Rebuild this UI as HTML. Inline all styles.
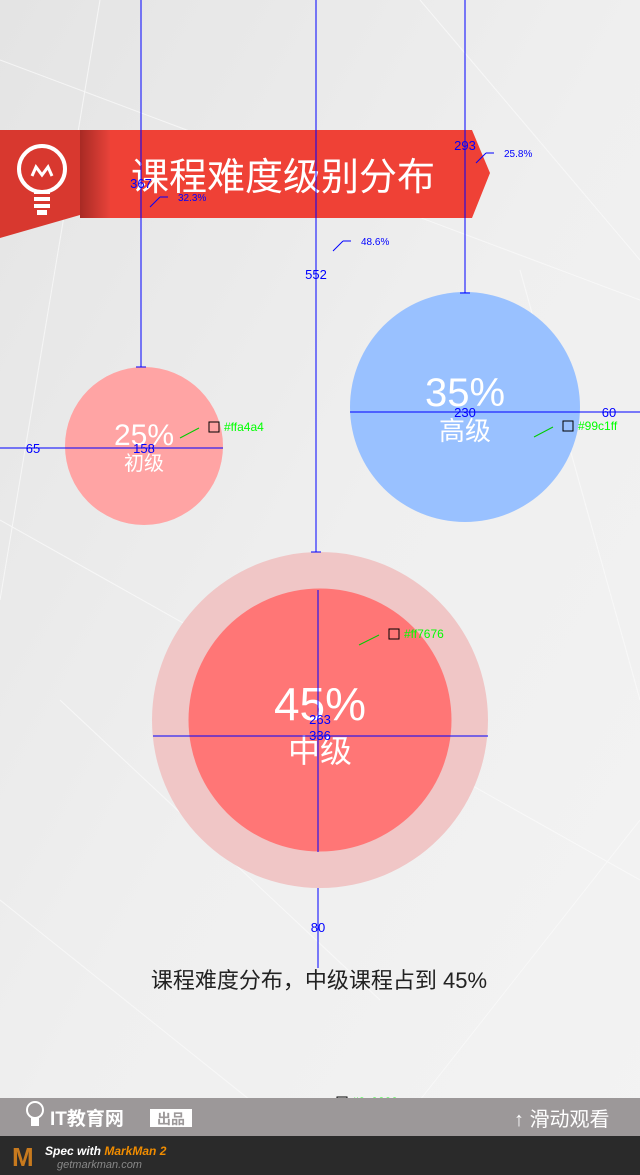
<!DOCTYPE html>
<html><head><meta charset="utf-8"><style>
html,body{margin:0;padding:0;width:640px;height:1175px;overflow:hidden;background:#ececec}
svg{display:block}
text{font-family:"Liberation Sans","Noto Sans CJK SC",sans-serif}
.m{font-family:"Liberation Sans","Noto Sans CJK SC",sans-serif;font-size:13px;fill:#00f}
</style></head><body>
<svg id="s" width="640" height="1175" viewBox="0 0 640 1175">
<defs>
<linearGradient id="bg" x1="0" y1="0" x2="1" y2="1"><stop offset="0" stop-color="#e4e4e4"/><stop offset="0.5" stop-color="#efefef"/><stop offset="1" stop-color="#f3f3f3"/></linearGradient>
<linearGradient id="fold" x1="0" y1="0" x2="1" y2="0"><stop offset="0" stop-color="#a82a24"/><stop offset="1" stop-color="#e8433a"/></linearGradient>
</defs>
<rect width="640" height="1175" fill="url(#bg)"/>
<g stroke="#fafafa" stroke-width="1" opacity="0.8">
<line x1="0" y1="60" x2="640" y2="300"/><line x1="100" y1="0" x2="0" y2="600"/><line x1="420" y1="0" x2="640" y2="260"/>
<line x1="0" y1="520" x2="640" y2="880"/><line x1="520" y1="270" x2="640" y2="700"/><line x1="0" y1="900" x2="250" y2="1100"/>
<line x1="640" y1="820" x2="420" y2="1100"/><line x1="60" y1="700" x2="380" y2="1000"/>
</g>
<g>
<polygon points="0,130 80,130 80,215 0,238" fill="#d8382f"/>
<polygon points="80,130 472,130 490,173 472,218 80,218" fill="#ef4136"/>
<rect x="80" y="130" width="30" height="88" fill="url(#fold)"/>
<g fill="none" stroke="#fff" stroke-width="4">
<circle cx="42" cy="169" r="23"/><polyline points="32,176 36,167 42,175 48,167 52,176" stroke-width="3"/>
</g>
<rect x="34" y="190" width="16" height="4" fill="#fff"/><rect x="34" y="197" width="16" height="4" fill="#fff"/><rect x="34" y="204" width="16" height="4" fill="#fff"/><rect x="37" y="210" width="10" height="5" fill="#fff"/>
<text x="283" y="190" font-size="38" fill="#fff" text-anchor="middle">课程难度级别分布</text>
</g>
<g id="bubbles"></g>
<text x="319" y="988" font-size="22" fill="#222" text-anchor="middle">课程难度分布，中级课程占到 45%</text>
<g id="spec"></g>
<rect x="0" y="1098" width="640" height="38" fill="#9c9899"/>
<text x="50" y="1125" font-size="19" font-weight="bold" fill="#fff">IT教育网</text>
<rect x="150" y="1109" width="42" height="18" fill="#fff"/><text x="171" y="1124" font-size="14" font-weight="bold" fill="#9c9899" text-anchor="middle">出品</text>
<circle cx="35" cy="1110" r="8" fill="none" stroke="#fff" stroke-width="2"/><rect x="31" y="1118" width="8" height="8" fill="#fff"/>
<text x="514" y="1126" font-size="20" fill="#fff">↑ 滑动观看</text>
<rect x="0" y="1136" width="640" height="39" fill="#2a2a2a"/>
<text x="12" y="1166" font-size="26" font-weight="bold" fill="#c87a1e">M</text>
<text x="45" y="1155" font-size="12" font-style="italic" font-weight="bold" fill="#fff">Spec with <tspan fill="#f08c00">MarkMan 2</tspan></text>
<text x="57" y="1168" font-size="11" font-style="italic" fill="#888">getmarkman.com</text>
</svg>
<script>
const labels=['初级','高级','中级'];
const values=[25,35,45];
const colors=['#ffa4a4','#99c1ff','#ff7676'];
const NS='http://www.w3.org/2000/svg';
const g=document.getElementById('bubbles');
function mk(t,a,p){const e=document.createElementNS(NS,t);for(const k in a)e.setAttribute(k,a[k]);(p||g).appendChild(e);return e;}
const cx=[144,465,320],cy=[446,407,720];
function rad(v){return v===25?79:v===35?115:131.5;}
const halo=mk('circle',{cx:320,cy:720,r:168,fill:'#f0c6c6'});


values.forEach((v,i)=>{
  const c=mk('circle',{cx:cx[i],cy:cy[i],r:rad(v),fill:colors[i]});
  
  
  const big=i===2;
  const t=mk('text',{x:cx[i],y:cy[i]+(big?0:-1),'font-size':big?46:(i===1?40:30),fill:'#fff','text-anchor':'middle'});
  t.textContent=v+'%';
  
  
  const l=mk('text',{x:cx[i],y:cy[i]+(big?42:(i===1?33:24)),'font-size':big?32:(i===1?26:20),fill:'#fff','text-anchor':'middle'});
  l.textContent=labels[i];
  
  
});
const s=document.getElementById('spec');
function ln(x1,y1,x2,y2,c){mk('line',{x1,y1,x2,y2,stroke:c||'#00f','stroke-width':1},s);}
function lab(x,y,t,c){const e=mk('text',{x,y,class:'m','text-anchor':'middle',fill:c||'#00f'},s);e.textContent=t;}
ln(141,0,141,367);ln(136,367,146,367);lab(141,188,'367');
ln(316,0,316,552);ln(311,552,321,552);lab(316,279,'552');
ln(465,0,465,293);ln(460,293,470,293);lab(465,150,'293');
ln(0,448,65,448);lab(33,453,'65');ln(65,448,223,448);lab(144,453,'158');
ln(350,412,580,412);lab(465,417,'230');ln(580,412,640,412);lab(609,417,'60');
ln(153,736,488,736);lab(320,740,'336');ln(318,590,318,852);lab(320,724,'263');
ln(318,888,318,968);lab(318,932,'80');
[[150,207,'32.3%'],[333,251,'48.6%'],[476,163,'25.8%']].forEach(a=>{ln(a[0],a[1],a[0]+10,a[1]-10);ln(a[0]+10,a[1]-10,a[0]+18,a[1]-10);const e=mk('text',{x:a[0]+28,y:a[1]-6,'font-size':10,fill:'#00f','font-family':'Liberation Mono,monospace'},s);e.textContent=a[2];});
[[180,438,'#ffa4a4',209],[534,437,'#99c1ff',563],[359,645,'#ff7676',389],[308,1113,'#9c9899',337]].forEach(a=>{ln(a[0],a[1],a[3]-10,a[1]-10,'#0c0');mk('rect',{x:a[3],y:a[1]-16,width:10,height:10,fill:'none',stroke:'#000'},s);const e=mk('text',{x:a[3]+15,y:a[1]-7,'font-size':12,fill:'#0f0','font-family':'Liberation Sans,sans-serif'},s);e.textContent=a[2];});
</script>
</body></html>
